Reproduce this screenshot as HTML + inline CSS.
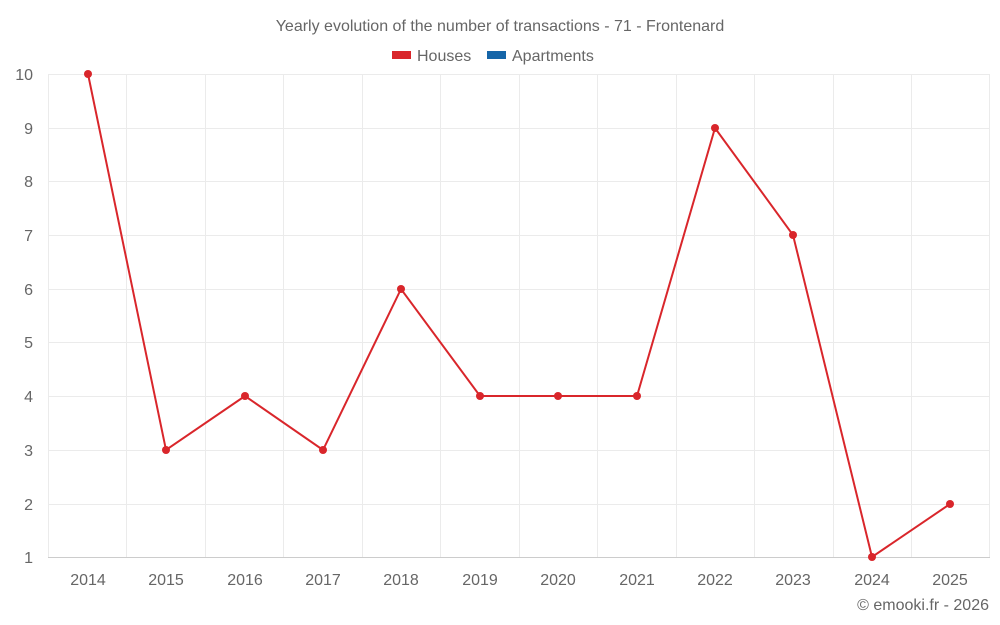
<!DOCTYPE html>
<html><head><meta charset="utf-8"><style>
html,body{margin:0;padding:0;background:#fff;}
svg{display:block;font-family:"Liberation Sans",sans-serif;}
</style></head><body>
<svg width="1000" height="625" viewBox="0 0 1000 625">
<text x="500" y="31" text-anchor="middle" font-size="16" fill="#666">Yearly evolution of the number of transactions - 71 - Frontenard</text>
<rect x="392" y="51" width="19" height="8" fill="#d9262b"/>
<text x="417" y="61" font-size="16" fill="#666">Houses</text>
<rect x="487" y="51" width="19" height="8" fill="#1565a8"/>
<text x="512" y="61" font-size="16" fill="#666">Apartments</text>
<g stroke="#ebebeb" stroke-width="1">
<line x1="48" y1="74.5" x2="990" y2="74.5"/>
<line x1="48" y1="128.5" x2="990" y2="128.5"/>
<line x1="48" y1="181.5" x2="990" y2="181.5"/>
<line x1="48" y1="235.5" x2="990" y2="235.5"/>
<line x1="48" y1="289.5" x2="990" y2="289.5"/>
<line x1="48" y1="342.5" x2="990" y2="342.5"/>
<line x1="48" y1="396.5" x2="990" y2="396.5"/>
<line x1="48" y1="450.5" x2="990" y2="450.5"/>
<line x1="48" y1="504.5" x2="990" y2="504.5"/>
<line x1="48.5" y1="74" x2="48.5" y2="557"/>
<line x1="126.5" y1="74" x2="126.5" y2="557"/>
<line x1="205.5" y1="74" x2="205.5" y2="557"/>
<line x1="283.5" y1="74" x2="283.5" y2="557"/>
<line x1="362.5" y1="74" x2="362.5" y2="557"/>
<line x1="440.5" y1="74" x2="440.5" y2="557"/>
<line x1="519.5" y1="74" x2="519.5" y2="557"/>
<line x1="597.5" y1="74" x2="597.5" y2="557"/>
<line x1="676.5" y1="74" x2="676.5" y2="557"/>
<line x1="754.5" y1="74" x2="754.5" y2="557"/>
<line x1="833.5" y1="74" x2="833.5" y2="557"/>
<line x1="911.5" y1="74" x2="911.5" y2="557"/>
<line x1="989.5" y1="74" x2="989.5" y2="557"/>
</g>
<line x1="48" y1="557.5" x2="990" y2="557.5" stroke="#ccc"/>
<g font-size="16" fill="#666" text-anchor="end">
<text x="33" y="80">10</text><text x="33" y="134">9</text><text x="33" y="187">8</text>
<text x="33" y="241">7</text><text x="33" y="295">6</text><text x="33" y="348">5</text>
<text x="33" y="402">4</text><text x="33" y="456">3</text><text x="33" y="510">2</text>
<text x="33" y="563">1</text>
</g>
<g font-size="16" fill="#666" text-anchor="middle">
<text x="88" y="585">2014</text><text x="166" y="585">2015</text><text x="245" y="585">2016</text>
<text x="323" y="585">2017</text><text x="401" y="585">2018</text><text x="480" y="585">2019</text>
<text x="558" y="585">2020</text><text x="637" y="585">2021</text><text x="715" y="585">2022</text>
<text x="793" y="585">2023</text><text x="872" y="585">2024</text><text x="950" y="585">2025</text>
</g>
<polyline fill="none" stroke="#d9262b" stroke-width="2" points="88,74 166,450 245,396 323,450 401,289 480,396 558,396 637,396 715,128 793,235 872,557 950,504"/>
<g fill="#d9262b">
<circle cx="88" cy="74" r="4"/><circle cx="166" cy="450" r="4"/><circle cx="245" cy="396" r="4"/>
<circle cx="323" cy="450" r="4"/><circle cx="401" cy="289" r="4"/><circle cx="480" cy="396" r="4"/>
<circle cx="558" cy="396" r="4"/><circle cx="637" cy="396" r="4"/><circle cx="715" cy="128" r="4"/>
<circle cx="793" cy="235" r="4"/><circle cx="872" cy="557" r="4"/><circle cx="950" cy="504" r="4"/>
</g>
<text x="989" y="610" text-anchor="end" font-size="16" fill="#666">© emooki.fr - 2026</text>
</svg>
</body></html>
